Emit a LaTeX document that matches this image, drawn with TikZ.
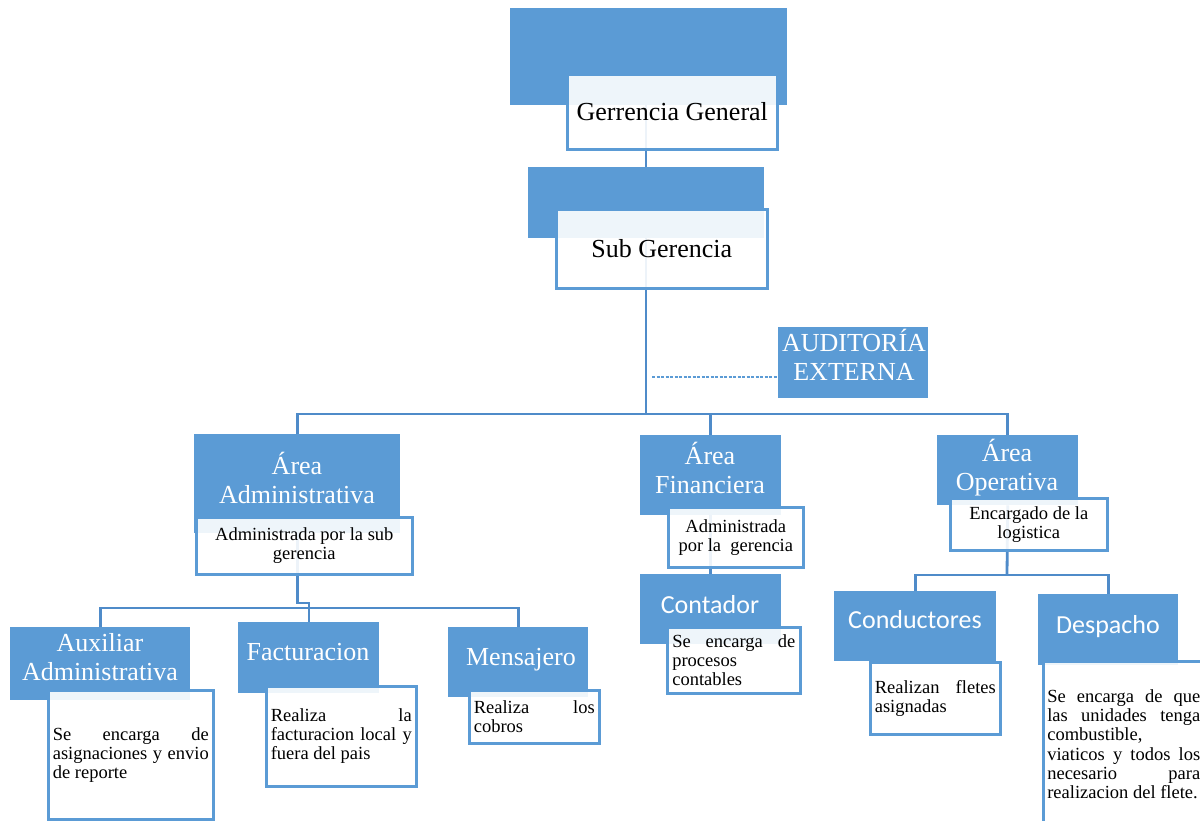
\documentclass[tikz,border=0pt]{standalone}
\usepackage{fontspec}
\setmainfont{Liberation Serif}
\newfontfamily\calibrifont{Carlito}
\definecolor{sblue}{HTML}{5B9BD5}
\definecolor{lineblue}{HTML}{4F8BC9}
\newcommand\ttlfont{\fontsize{26}{29}\selectfont}
\newcommand\notefont{\fontsize{18.5}{19.2}\selectfont}
\begin{document}
\begin{tikzpicture}[x=1pt,y=-1pt,
  bluebox/.style={fill=sblue,draw=none,inner sep=0pt,anchor=north west},
  whitebox/.style={fill=white,fill opacity=0.9,text opacity=1,draw=sblue,
    draw opacity=1,line width=2.6pt,inner sep=0pt,anchor=north west,text=black},
  ttl/.style={text=white,font=\ttlfont,align=center,anchor=base,inner sep=0pt},
  sttl/.style={text=white,font=\calibrifont\ttlfont,anchor=base,inner sep=0pt},
  conn/.style={draw=lineblue,line width=2.8pt},
  auditlink/.style={draw=sblue,line width=1.1pt,dash pattern=on 3pt off 1.5pt}
]
\useasboundingbox (0,0) rectangle (1200,820);
\clip (0,0) rectangle (1200,820);

% ---- junction points of the connectors
\coordinate (trunk) at (646,414);
\coordinate (jog) at (309,603);
\coordinate (busadm) at (300,608);
\coordinate (busop) at (1007,575);
\coordinate (audlink) at (652,377);

% ---- blue heading boxes (positions only; texts are set further below)
\node[bluebox,minimum width=277pt,minimum height=97pt] (gg) at (510,8) {};
\node[bluebox,minimum width=236pt,minimum height=71pt] (sg) at (528,167) {};
\node[bluebox,minimum width=150pt,minimum height=71pt] (aud) at (778,327) {};
\node[bluebox,minimum width=206pt,minimum height=99pt] (aa) at (194,434) {};
\node[bluebox,minimum width=141pt,minimum height=80pt] (af) at (640,435) {};
\node[bluebox,minimum width=141pt,minimum height=70pt] (ao) at (937,435) {};
\node[bluebox,minimum width=180pt,minimum height=73pt] (ax) at (10,627) {};
\node[bluebox,minimum width=141pt,minimum height=71pt] (fa) at (238,622) {};
\node[bluebox,minimum width=140pt,minimum height=70pt] (me) at (448,627) {};
\node[bluebox,minimum width=141pt,minimum height=70pt] (co) at (640,574) {};
\node[bluebox,minimum width=162pt,minimum height=70pt] (cd) at (834,591) {};
\node[bluebox,minimum width=140pt,minimum height=71pt] (de) at (1038,594) {};

% ---- connectors (behind the translucent white boxes)
\draw[conn] (gg.south -| trunk) -- (sg.north -| trunk);
\draw[conn] (sg.south -| trunk) -- (trunk);
\draw[conn] (aa.north) -- (aa.north |- trunk) -- (ao.north |- trunk) -- (ao.north);
\draw[conn] (trunk -| af.north) -- (af.north);
\draw[auditlink] (audlink) -- (audlink -| aud.west);
\draw[conn] (aa.south) |- (jog) -- (jog |- fa.north);
\draw[conn] (ax.north) |- (busadm) -| (me.north);
\draw[conn] (af.south) -- (co.north);
\draw[conn] (ao.south) -- (busop);
\draw[conn] (cd.north) |- (busop) -| (de.north);

% ---- white description boxes
\node[whitebox,minimum width=210pt,minimum height=75pt,font=\ttlfont] (ggw) at (566,73) {Gerrencia General};
\node[whitebox,minimum width=211pt,minimum height=79pt,font=\ttlfont] (sgw) at (555,208) {Sub Gerencia};
\node[whitebox,minimum width=216pt,minimum height=57pt,font=\notefont,align=center] (aaw) at (195,516)
  {Administrada por la sub\\gerencia};
\node[whitebox,minimum width=135pt,minimum height=60pt,font=\notefont,align=center] (afw) at (667,506)
  {Administrada\\por la\ \ gerencia};
\node[whitebox,minimum width=157pt,minimum height=52pt,font=\notefont,align=center] (aow) at (949,497)
  {Encargado de la\\logistica};
\node[whitebox,minimum width=165pt,minimum height=129pt,font=\notefont] (axw) at (47,689)
  {\parbox{156pt}{Se encarga de\linebreak asignaciones y envio\linebreak de reporte}};
\node[whitebox,minimum width=150pt,minimum height=100pt,font=\notefont] (faw) at (265,685)
  {\parbox{141pt}{Realiza la\linebreak facturacion local y\linebreak fuera del pais}};
\node[whitebox,minimum width=130pt,minimum height=53pt,font=\notefont] (mew) at (468,689)
  {\parbox{121pt}{Realiza los\linebreak cobros}};
\node[whitebox,minimum width=133pt,minimum height=66pt,font=\notefont] (cow) at (666,626)
  {\parbox{123pt}{Se encarga de\linebreak procesos\\contables}};
\node[whitebox,minimum width=130pt,minimum height=72pt,font=\notefont] (cdw) at (869,661)
  {\parbox{121pt}{Realizan fletes\linebreak asignadas}};
\node[whitebox,minimum width=161pt,minimum height=166pt,font=\notefont] (dew) at (1042,660)
  {\parbox{153pt}{Se encarga de que\linebreak las unidades tenga\linebreak combustible,\\viaticos y todos los\linebreak necesario para\linebreak realizacion del flete.}};

% ---- headings on the blue boxes (base = baseline of the last line)
\node[ttl] (audt) at (854,380) {AUDITORÍA\\EXTERNA};
\node[ttl] (aat) at (297,503) {Área\\Administrativa};
\node[ttl] (aft) at (710,493) {Área\\Financiera};
\node[ttl] (aot) at (1007,490) {Área\\Operativa};
\node[ttl] (axt) at (100,680) {Auxiliar\\Administrativa};
\node[ttl] (fat) at (308,660) {Facturacion};
\node[ttl] (met) at (521,665) {Mensajero};
\node[sttl] (cot) at (710,613) {Contador};
\node[sttl] (cdt) at (915,628) {Conductores};
\node[sttl] (det) at (1108,633) {Despacho};
\end{tikzpicture}
\end{document}
